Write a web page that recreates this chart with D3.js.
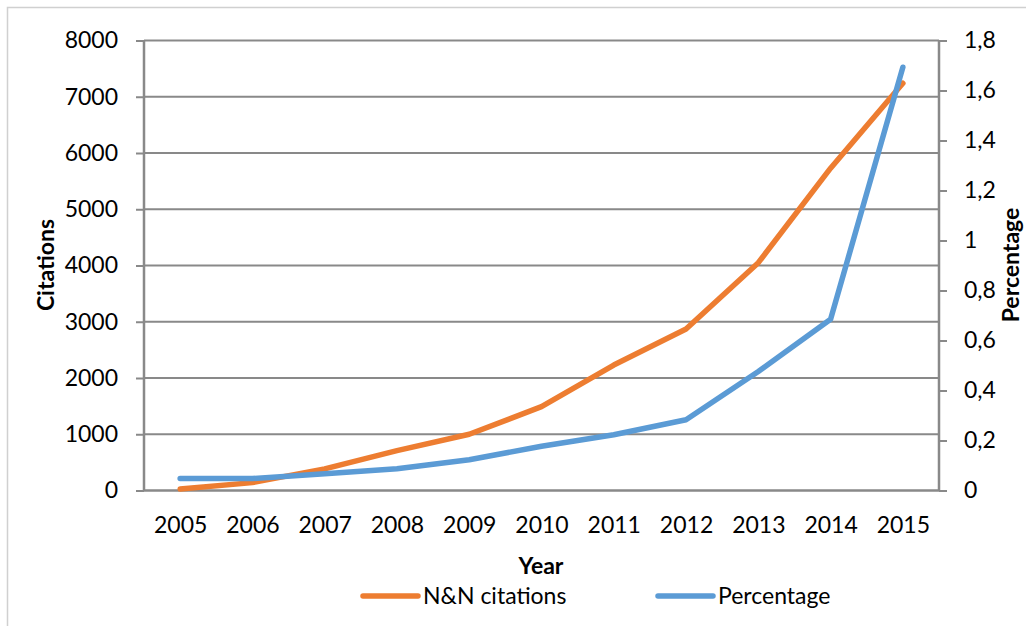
<!DOCTYPE html>
<html>
<head>
<meta charset="utf-8">
<script src="https://cdn.jsdelivr.net/npm/d3@7/dist/d3.min.js"></script>
<style>
  html, body { margin: 0; padding: 0; background: #fff; }
  svg { display: block; font-family: Lato, "Open Sans", sans-serif; }
</style>
</head>
<body>
<svg id="chart" width="1026" height="626"></svg>
<script>
// Yearly citations of N&N and their share (percentage)
const years = ["2005", "2006", "2007", "2008", "2009", "2010", "2011", "2012", "2013", "2014", "2015"];
const citations = [25, 140, 385, 710, 1000, 1490, 2230, 2870, 4050, 5730, 7240];
const percentage = [0.048, 0.048, 0.067, 0.087, 0.123, 0.177, 0.223, 0.283, 0.476, 0.685, 1.693];
const leftTicks = [0, 1000, 2000, 3000, 4000, 5000, 6000, 7000, 8000];
const rightTicks = [0, 0.2, 0.4, 0.6, 0.8, 1, 1.2, 1.4, 1.6, 1.8];

const svg = d3.select("#chart");
const plot = { left: 144, right: 939, top: 40.5, bottom: 490.5 };
const gridColor = "#898989";
const orange = "#ED7D31";
const blue = "#5B9BD5";
const fontSize = 23;

// outer chart frame
svg.append("rect")
  .attr("x", 7.5).attr("y", 7.5)
  .attr("width", 1040).attr("height", 640)
  .attr("fill", "none").attr("stroke", "#d0d0d0").attr("stroke-width", 1.5);

const x = d3.scalePoint().domain(years).range([plot.left, plot.right]).padding(0.5);
const yL = d3.scaleLinear().domain([0, 8000]).range([plot.bottom, plot.top]);
const yR = d3.scaleLinear().domain([0, 1.8]).range([plot.bottom, plot.top]);

// horizontal gridlines
svg.append("g").selectAll("line").data(leftTicks.filter(d => d > 0)).join("line")
  .attr("x1", plot.left).attr("x2", plot.right)
  .attr("y1", d => yL(d)).attr("y2", d => yL(d))
  .attr("stroke", gridColor).attr("stroke-width", 2);

// left axis
const gL = svg.append("g").attr("transform", `translate(${plot.left},0)`)
  .call(d3.axisLeft(yL).tickValues(leftTicks).tickSize(8).tickPadding(18).tickFormat(d3.format("d")));
gL.select(".domain").attr("stroke", gridColor).attr("stroke-width", 2.5).attr("d", `M0,${plot.top}V${plot.bottom}`);
gL.selectAll(".tick line").attr("stroke", gridColor).attr("stroke-width", 2);
gL.selectAll(".tick text").attr("fill", "#000").style("font-size", fontSize + "px").style("font-family", "Lato");

// right axis
const fmtComma = d => d3.format("~g")(+d.toFixed(1)).replace(".", ",");
const gR = svg.append("g").attr("transform", `translate(${plot.right},0)`)
  .call(d3.axisRight(yR).tickValues(rightTicks).tickSize(8).tickPadding(17).tickFormat(fmtComma));
gR.select(".domain").attr("stroke", gridColor).attr("stroke-width", 2.5).attr("d", `M0,${plot.top}V${plot.bottom}`);
gR.selectAll(".tick line").attr("stroke", gridColor).attr("stroke-width", 2);
gR.selectAll(".tick text").attr("fill", "#000").style("font-size", fontSize + "px").style("font-family", "Lato");

// bottom axis
const gB = svg.append("g").attr("transform", `translate(0,${plot.bottom})`)
  .call(d3.axisBottom(x).tickSize(0).tickPadding(26));
gB.select(".domain").attr("stroke", gridColor).attr("stroke-width", 2.5).attr("d", `M${plot.left},0H${plot.right}`);
gB.selectAll(".tick text").attr("fill", "#000").style("font-size", fontSize + "px").style("font-family", "Lato");

// series lines
const lineL = d3.line().x((d, i) => x(years[i])).y(d => yL(d));
const lineR = d3.line().x((d, i) => x(years[i])).y(d => yR(d));
svg.append("path").datum(citations).attr("d", lineL)
  .attr("fill", "none").attr("stroke", orange).attr("stroke-width", 5.5)
  .attr("stroke-linecap", "round").attr("stroke-linejoin", "round");
svg.append("path").datum(percentage).attr("d", lineR)
  .attr("fill", "none").attr("stroke", blue).attr("stroke-width", 5.5)
  .attr("stroke-linecap", "round").attr("stroke-linejoin", "round");

// axis titles
svg.append("text").attr("transform", "translate(54,265) rotate(-90)")
  .attr("text-anchor", "middle").style("font-weight", "bold").style("font-size", fontSize + "px")
  .text("Citations");
svg.append("text").attr("transform", "translate(1019,265) rotate(-90)")
  .attr("text-anchor", "middle").style("font-weight", "bold").style("font-size", fontSize + "px")
  .text("Percentage");
svg.append("text").attr("x", 541).attr("y", 574)
  .attr("text-anchor", "middle").style("font-weight", "bold").style("font-size", fontSize + "px")
  .text("Year");

// legend
const legend = [
  { name: "N&N citations", color: orange, x: 363 },
  { name: "Percentage", color: blue, x: 658 }
];
const lg = svg.append("g").selectAll("g").data(legend).join("g")
  .attr("transform", d => `translate(${d.x},596)`);
lg.append("line").attr("x1", 0).attr("x2", 55).attr("y1", 0).attr("y2", 0)
  .attr("stroke", d => d.color).attr("stroke-width", 5.5).attr("stroke-linecap", "round");
lg.append("text").attr("x", 60).attr("y", 8).style("font-size", fontSize + "px")
  .text(d => d.name);
</script>
</body>
</html>
